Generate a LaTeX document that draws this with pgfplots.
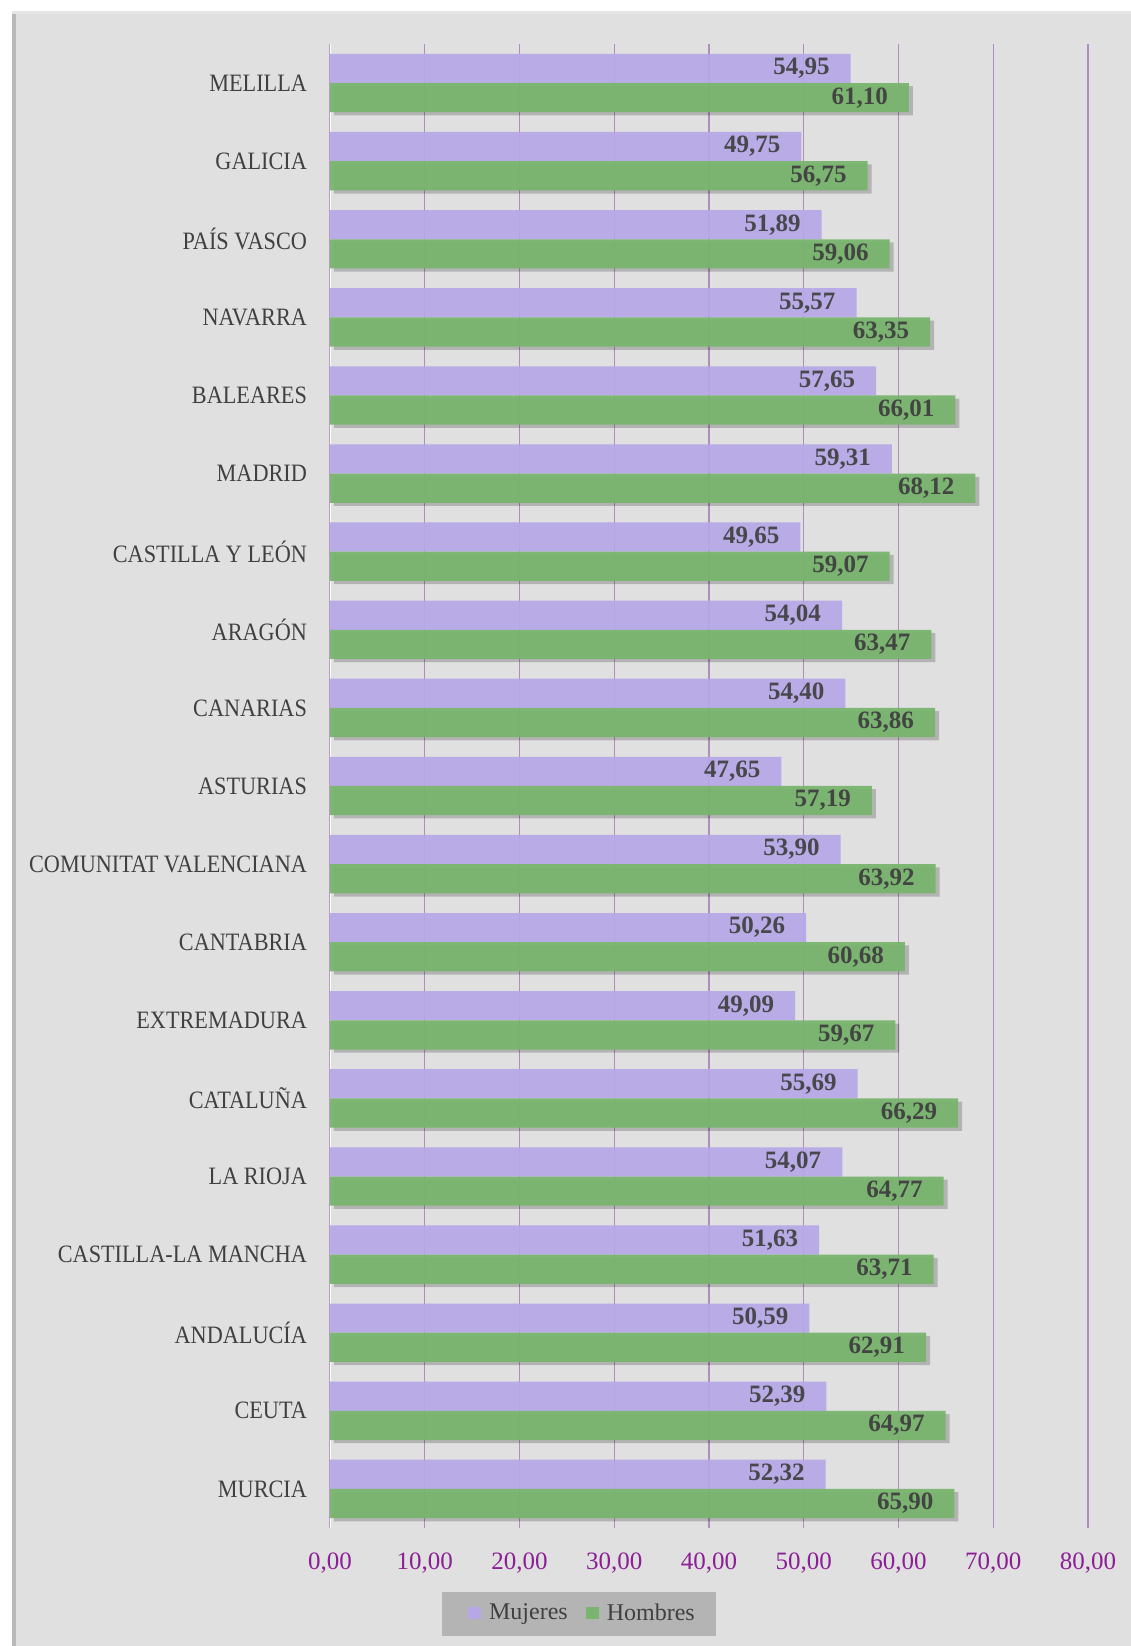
\documentclass[border=0pt]{standalone}
\usepackage{fontspec}
\setmainfont{Liberation Serif}
\newfontfamily\catfont{Liberation Serif}[FakeStretch=0.89]
\usepackage{pgfplots}
\usepackage{pgfplotstable}
\pgfplotsset{compat=1.18}
\usetikzlibrary{shadows}
\definecolor{bg}{RGB}{224,224,224}
\definecolor{mujer}{RGB}{182,167,231}
\definecolor{hombre}{RGB}{121,181,110}
\definecolor{gridc}{RGB}{178,140,188}
\definecolor{tickc}{RGB}{140,30,150}
\definecolor{txt}{RGB}{64,64,64}
\definecolor{legbg}{RGB}{180,180,180}
\pgfplotstableread{
y m h
18 54.95 61.10
17 49.75 56.75
16 51.89 59.06
15 55.57 63.35
14 57.65 66.01
13 59.31 68.12
12 49.65 59.07
11 54.04 63.47
10 54.40 63.86
9 47.65 57.19
8 53.90 63.92
7 50.26 60.68
6 49.09 59.67
5 55.69 66.29
4 54.07 64.77
3 51.63 63.71
2 50.59 62.91
1 52.39 64.97
0 52.32 65.90
}\datatab
\pgfkeys{/pgf/number format/.cd, fixed, fixed zerofill, precision=2, use comma, assume math mode=true}
\begin{document}
\begin{tikzpicture}
\path[use as bounding box] (0,0) rectangle (565.5pt,823pt);
\fill[white] (0,0) rectangle (565.5pt,823pt);
\fill[bg] (6pt,0) rectangle (565.5pt,817pt);
\fill[gray!55] (6pt,0) rectangle (8pt,817pt);
\fill[gray!20] (6pt,816pt) rectangle (565.5pt,817.5pt);
\fill[legbg] (221pt,5pt) rectangle (358pt,27pt);
\begin{axis}[
  scale only axis, width=379pt, height=742pt,
  at={(165pt,59pt)}, anchor=south west,
  xbar, bar width=14.6pt,
  xmin=0, xmax=80, ymin=-0.5, ymax=18.5,
  xtick={0,10,...,80},
  xmajorgrids,
  major grid style={gridc, line width=0.6pt},
  ytick={0,...,18},
  yticklabels={MURCIA,CEUTA,ANDALUCÍA,CASTILLA-LA MANCHA,LA RIOJA,CATALUÑA,EXTREMADURA,CANTABRIA,COMUNITAT VALENCIANA,ASTURIAS,CANARIAS,ARAGÓN,CASTILLA Y LEÓN,MADRID,BALEARES,NAVARRA,PAÍS VASCO,GALICIA,MELILLA},
  major tick length=0pt,
  axis line style={draw=none},
  xticklabel style={text=tickc, font=\fontsize{12.5}{12.5}\selectfont, yshift=-9pt},
  yticklabel style={text=txt, font=\catfont\fontsize{12.5}{12.5}\selectfont, xshift=-8pt},
  nodes near coords,
  nodes near coords style={anchor=east, xshift=-7pt, font=\bfseries\fontsize{12.5}{12.5}\selectfont, text=txt},
  legend style={at={(0.3344,-0.0575)}, anchor=center, fill=none, draw=none,
    legend columns=2, font=\fontsize{12}{12}\selectfont, text=txt,
    /tikz/every even column/.append style={column sep=7pt},
    inner xsep=0pt, inner ysep=2pt},
  legend image code/.code={\fill[#1] (0pt,-3pt) rectangle (6.5pt,3pt); \path (0pt,0pt) -- (8.5pt,0pt);},
]
\fill[white] ([xshift=-2.2pt]rel axis cs:0,0) rectangle ([xshift=0.3pt]rel axis cs:0,1);
\addplot[forget plot, draw=none, fill=mujer, fill opacity=0.93, bar shift=7.3pt] table[x=m, y=y] {\datatab};
\addplot[forget plot, draw=none, fill=hombre, fill opacity=0.95, bar shift=-7.3pt,
  drop shadow={shadow xshift=2pt, shadow yshift=-1.6pt, opacity=0.2, fill=black}] table[x=h, y=y] {\datatab};
\addlegendimage{draw=none, fill=mujer}
\addlegendentry{Mujeres}
\addlegendimage{draw=none, fill=hombre}
\addlegendentry{Hombres}
\end{axis}
\end{tikzpicture}
\end{document}
